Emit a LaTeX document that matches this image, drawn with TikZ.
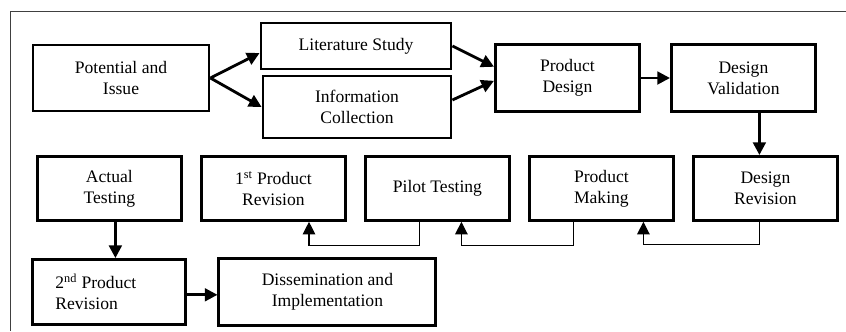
\documentclass[tikz,border=0pt]{standalone}
\usepackage{fontspec}
\setmainfont{Liberation Serif}
\usepackage{tikz}
\usetikzlibrary{arrows.meta}

\begin{document}
\begin{tikzpicture}[>= {Triangle[length=9pt, width=9pt]},
                    line width=2pt, node distance=4.1cm,
                    font=\fontsize{12.5}{15}\selectfont]
\tikzstyle{stage}=[shape=rectangle, draw=black, line width=2pt,
                    align=center, inner sep=2pt,
                    minimum width=3.6cm, minimum height=1.6cm]
\tikzstyle{loopback}=[line width=0.8pt]
  \useasboundingbox (0,0) rectangle (21.15,-8.275);
  \draw[line width=0.6pt, black!75] (21.15,-0.275) -- (0.25,-0.275) -- (0.25,-8.275);
  %
  \node[stage, minimum width=4.4cm, minimum height=1.65cm] (PI) at (3.025,-1.95) {Potential and\\Issue};
  \node[stage, minimum width=4.75cm, minimum height=1.15cm] (LS) [right of=PI, node distance=5.875cm, yshift=0.8cm] {Literature Study};
  \node[stage, minimum width=4.7cm, minimum height=1.55cm] (IC) [right of=PI, node distance=5.9cm, yshift=-0.725cm] {Information\\Collection};
  \node[stage, minimum height=1.675cm] (PD) [right of=PI, node distance=11.16cm] {Product\\Design};
  \node[stage, minimum height=1.675cm] (DV) [right of=PD, node distance=4.4cm] {Design\\Validation};
  %
  \node[stage] (DR) [below of=DV, node distance=2.76cm, xshift=0.55cm] {Design\\Revision};
  \node[stage] (PM) [left of=DR] {Product\\Making};
  \node[stage] (PT) [left of=PM] {Pilot Testing};
  \node[stage] (PR1) [left of=PT] {1\textsuperscript{st} Product\\Revision};
  \node[stage] (AT) [left of=PR1] {Actual\\Testing};
  %
  \node[stage, minimum width=3.825cm, minimum height=1.625cm, text width=2.7cm, align=flush left] (PR2) [below of=AT, node distance=2.59cm] {2\textsuperscript{nd} Product\\Revision};
  \node[stage, minimum width=5.425cm, minimum height=1.675cm] (DI) [right of=PR2, node distance=5.45cm] {Dissemination and\\Implementation};
  %
  \path[->]  (PI.east) edge ([yshift=-5pt]LS.west);
  \path[->]  (PI.east) edge (IC.west);
  \path[->]  (LS.east) edge ([yshift=8pt]PD.west);
  \path[->]  ([yshift=5pt]IC.east) edge ([yshift=-2pt]PD.west);
  \path[->]  (PD) edge (DV);
  \path[->]  ([xshift=-0.15cm]DR.north |- DV.south) edge ([xshift=-0.15cm]DR.north);
  %
  \draw[->, loopback] ([xshift=-0.14cm]DR.south) -- ++(0,-0.575) -| ([xshift=1.05cm]PM.south);
  \draw[->, loopback] ([xshift=-0.69cm]PM.south) -- ++(0,-0.6) -| ([xshift=0.6cm]PT.south);
  \draw[->, loopback] ([xshift=-0.45cm]PT.south) -- ++(0,-0.6) -| ([xshift=0.89cm]PR1.south);
  %
  \path[->]  ([xshift=0.15cm]AT.south) edge ([xshift=0.15cm]AT.south |- PR2.north);
  \path[->]  ([yshift=-2pt]PR2.east) edge ([yshift=-2pt]PR2.east -| DI.west);
\end{tikzpicture}
\end{document}
